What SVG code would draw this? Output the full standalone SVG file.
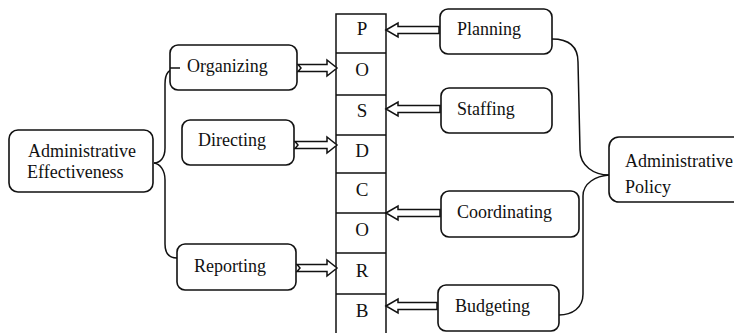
<svg xmlns="http://www.w3.org/2000/svg" width="734" height="333" viewBox="0 0 734 333">
<style>
.box{fill:#fff;stroke:#111;stroke-width:1.6}
.t{font-family:"Liberation Serif","Times New Roman",serif;font-size:18px;fill:#111}
.l{font-family:"Liberation Serif","Times New Roman",serif;font-size:19px;fill:#111;text-anchor:middle}
.c{fill:none;stroke:#111;stroke-width:1.5}
.a{fill:#fff;stroke:#111;stroke-width:1.5;stroke-linejoin:miter}
.col{fill:#fff;stroke:#111;stroke-width:1.5}
</style>
<rect width="734" height="333" fill="#fff"/>
<g id="posdcorb">
<path class="col" d="M336,333 V14 H386 V333"/>
<path class="c" d="M336,53 H386 M336,95 H386 M336,135 H386 M336,173 H386 M336,213 H386 M336,253 H386 M336,294 H386"/>
<text class="l" x="362" y="35">P</text>
<text class="l" x="362" y="76">O</text>
<text class="l" x="362" y="117">S</text>
<text class="l" x="362" y="157">D</text>
<text class="l" x="362" y="196">C</text>
<text class="l" x="362" y="236">O</text>
<text class="l" x="362" y="277">R</text>
<text class="l" x="362" y="317">B</text>
</g>
<g id="connectors">
<path class="c" d="M180,68 C168,68 165,74 165,84 V148 C165,158 160,163 154,163"/>
<path class="c" d="M154,163 C160,164 165,170 165,180 V244 C165,254 170,258 177,258"/>
<path class="c" d="M552,39 C568,39 578,46 578,62 L580,150 C580,166 594,175 609,175"/>
<path class="c" d="M609,175 C596,176 583,183 583,196 L583,294 C583,308 572,315 559,315"/>
<polygon class="a" points="298,64.5 327,64.5 327,60 337,68 327,76 327,71.5 298,71.5 301,68"/>
<polygon class="a" points="295,141.5 327,141.5 327,137 337,145 327,153 327,148.5 295,148.5 298,145"/>
<polygon class="a" points="297,264.5 327,264.5 327,260 337,268 327,276 327,271.5 297,271.5 300,268"/>
<polygon class="a" points="386,30 398,23 398,26.5 439,26.5 439,33.5 398,33.5 398,37"/>
<polygon class="a" points="386,109 398,102 398,105.5 440,105.5 440,112.5 398,112.5 398,116"/>
<polygon class="a" points="386,213 398,206 398,209.5 440,209.5 440,216.5 398,216.5 398,220"/>
<polygon class="a" points="386,306 398,299 398,302.5 437,302.5 437,309.5 398,309.5 398,313"/>
</g>
<g id="admin-effectiveness">
<rect class="box" x="9" y="130" width="144" height="62" rx="9"/>
<text class="t" x="28" y="157">Administrative</text>
<text class="t" x="27" y="178">Effectiveness</text>
</g>
<g id="organizing">
<rect class="box" x="170" y="45" width="127" height="45" rx="8"/>
<path class="c" d="M170,68 H180"/>
<text class="t" x="187" y="72">Organizing</text>
</g>
<g id="directing">
<rect class="box" x="182" y="120" width="112" height="45" rx="8"/>
<text class="t" x="198" y="146">Directing</text>
</g>
<g id="reporting">
<rect class="box" x="177" y="244" width="119" height="46" rx="8"/>
<text class="t" x="194" y="272">Reporting</text>
</g>
<g id="planning">
<rect class="box" x="440" y="9" width="112" height="45" rx="8"/>
<text class="t" x="457" y="35">Planning</text>
</g>
<g id="staffing">
<rect class="box" x="441" y="88" width="111" height="45" rx="8"/>
<text class="t" x="457" y="115">Staffing</text>
</g>
<g id="coordinating">
<rect class="box" x="441" y="191" width="138" height="46" rx="8"/>
<text class="t" x="457" y="218">Coordinating</text>
</g>
<g id="budgeting">
<rect class="box" x="438" y="285" width="121" height="46" rx="8"/>
<text class="t" x="455" y="312">Budgeting</text>
</g>
<g id="admin-policy">
<rect class="box" x="609" y="137" width="140" height="65" rx="10"/>
<text class="t" x="625" y="167">Administrative</text>
<text class="t" x="625" y="193">Policy</text>
</g>
</svg>
